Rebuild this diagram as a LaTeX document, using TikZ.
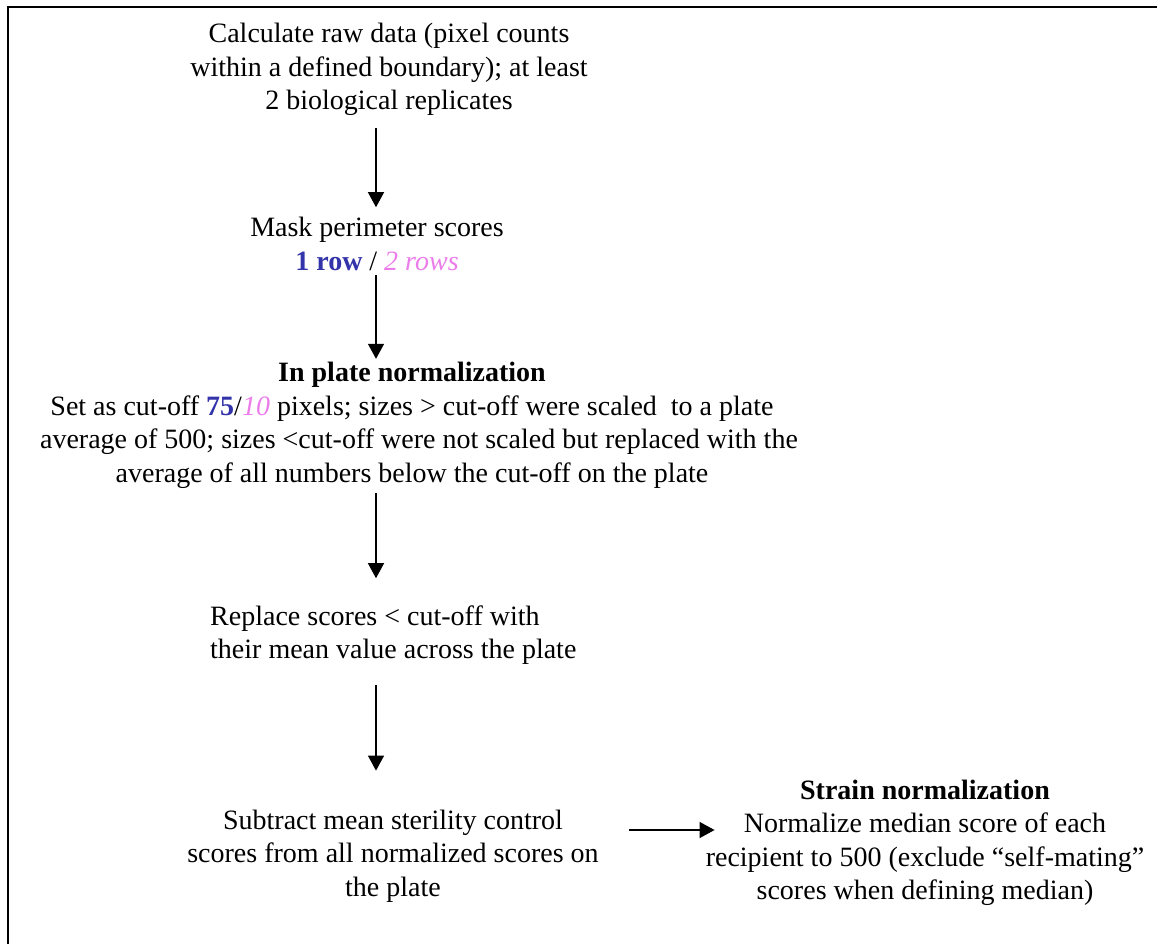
\documentclass[tikz,border=0pt]{standalone}
\usepackage{fontspec}
\setmainfont{Liberation Serif}
\usetikzlibrary{arrows.meta}
\definecolor{rowblue}{RGB}{51,51,170}
\definecolor{rowpink}{RGB}{235,125,235}
\tikzset{
  txt/.style={inner sep=0pt, align=center, font=\fontsize{28}{33.5}\selectfont},
  arr/.style={line width=1.3pt, -{Triangle[length=15pt,width=16pt]}},
  frame/.style={line width=2.5pt}
}
\begin{document}
\begin{tikzpicture}[x=1pt,y=-1pt]
\useasboundingbox (0,0) rectangle (1157,943);
\clip (0,0) rectangle (1157,943);
\draw[frame] (8,960) -- (8,7) -- (1170,7);
\coordinate (ax) at (376,0);
\node[txt] (n1) at (389,69.5) {Calculate raw data (pixel counts\\within a defined boundary); at least\\2 biological replicates};
\node[txt] (n2) at (377,244) {Mask perimeter scores\\\textcolor{rowblue}{\textbf{1 row}} / \textcolor{rowpink}{\textit{2 rows}}};
\node[txt] (n3) at (412,425.5) {\textbf{In plate normalization}\\Set as cut-off \textcolor{rowblue}{\textbf{75}}/\textcolor{rowpink}{\textit{10}} pixels; sizes > cut-off were scaled\ \ to a plate\\\hspace*{14pt}average of 500; sizes <cut-off were not scaled but replaced with the\\average of all numbers below the cut-off on the plate};
\node[txt, align=left, anchor=west] (n4) at (210,635) {Replace scores < cut-off with\\their mean value across the plate};
\node[txt] (n5) at (393,856) {Subtract mean sterility control\\scores from all normalized scores on\\the plate};
\node[txt] (n6) at (925,843) {\textbf{Strain normalization}\\Normalize median score of each\\recipient to 500 (exclude “self-mating”\\scores when defining median)};
\draw[arr] (n1.south -| ax) ++(0,12.5) -- ([yshift=10pt]n2.north -| ax);
\draw[arr] ([yshift=-4pt]n2.south -| ax) -- ([yshift=3.5pt]n3.north -| ax);
\draw[arr] ([yshift=-4.5pt]n3.south -| ax) -- ([yshift=27pt]n4.north -| ax);
\draw[arr] ([yshift=-20pt]n4.south -| ax) -- ([yshift=39pt]n5.north -| ax);
\draw[arr] ([xshift=30pt]n5.east |- 0,830) -- ([xshift=9pt]n6.west |- 0,830);
\end{tikzpicture}
\end{document}
